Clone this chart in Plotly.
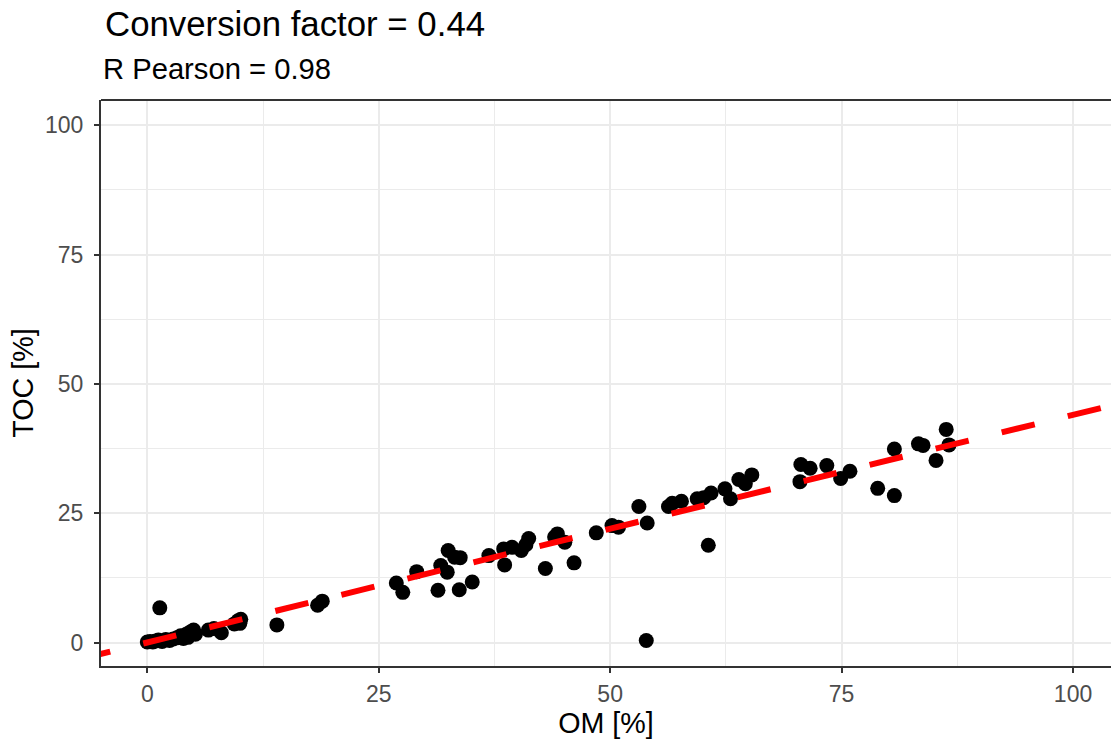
import plotly.graph_objects as go

# ---- data ----
om = [0.0, 0.3, 0.6, 0.9, 1.2, 1.6, 2.0, 2.4, 2.8, 3.2, 3.6, 3.9, 4.2, 4.4, 4.7, 5.0, 5.2,
      6.6, 7.2, 8.0, 9.4, 9.8, 10.1, 10.0, 1.35,
      14.0, 18.4, 18.9,
      26.9, 27.6, 29.1, 31.4, 31.7, 32.4, 32.5, 33.2, 33.8, 33.7, 35.1, 36.9, 38.5, 38.6, 39.4,
      40.4, 40.9, 41.2, 43.0, 44.3, 44.0, 45.1, 46.1, 48.5, 50.2, 50.9, 53.1, 54.0, 53.9,
      60.6, 56.3, 56.7, 57.7, 59.4, 60.1, 60.9, 62.4, 63.0, 63.9, 64.6, 65.3,
      70.5, 70.6, 71.6, 73.4, 74.9, 75.9, 78.9, 80.7, 80.7, 83.3, 83.8, 85.2, 86.3, 86.6]
toc = [0.1, 0.2, 0.1, 0.3, 0.5, 0.2, 0.6, 0.4, 0.7, 0.9, 1.3, 0.8, 1.6, 1.0, 2.1, 2.4, 1.6,
       2.4, 2.7, 1.9, 3.6, 4.2, 4.5, 3.7, 6.7,
       3.4, 7.2, 8.0,
       11.5, 9.7, 13.7, 10.1, 14.9, 13.6, 17.8, 16.5, 16.4, 10.2, 11.7, 16.8, 18.1, 15.0, 18.4,
       17.8, 18.9, 20.1, 14.3, 21.0, 20.4, 19.4, 15.4, 21.2, 22.6, 22.3, 26.3, 23.1, 0.4,
       18.8, 26.3, 26.9, 27.3, 27.8, 28.0, 28.9, 29.7, 27.8, 31.5, 30.7, 32.4,
       31.1, 34.4, 33.7, 34.2, 31.7, 33.1, 29.8, 37.4, 28.4, 38.4, 38.1, 35.2, 41.2, 38.2]
conversion_factor = 0.44
r_pearson = 0.98
tick_vals = [0, 25, 50, 75, 100]
line_x = [-14.7, 110]

FONT = "Liberation Sans"

fig = go.Figure()
fig.add_trace(go.Scatter(
    x=om, y=toc, mode="markers",
    marker=dict(color="black", size=15, line=dict(width=0)),
    showlegend=False, hoverinfo="x+y"))
fig.add_trace(go.Scatter(
    x=line_x, y=[conversion_factor * v for v in line_x], mode="lines",
    line=dict(color="#FF0000", width=6, dash="34px,34px"),
    showlegend=False, hoverinfo="skip"))

axis_common = dict(
    tickvals=tick_vals, ticktext=[str(v) for v in tick_vals],
    showgrid=True, gridcolor="#EBEBEB", gridwidth=2,
    zeroline=False, showline=True, linecolor="#333333", linewidth=2,
    ticks="outside", ticklen=5, tickwidth=2, tickcolor="#333333",
    tickfont=dict(family=FONT, size=23, color="#4D4D4D"),
    minor=dict(tickvals=[12.5, 37.5, 62.5, 87.5], showgrid=True, gridcolor="#EBEBEB",
               gridwidth=1, ticks=""),
)

fig.update_layout(
    width=1111, height=742,
    margin=dict(l=101, r=0, t=100, b=76),
    plot_bgcolor="white", paper_bgcolor="white",
    font=dict(family=FONT, color="black"),
    xaxis=dict(range=[-5.0, 104.1],
               title=dict(text="OM [%]", font=dict(family=FONT, size=28.7, color="black"), standoff=5),
               ticklabelstandoff=1,
               **axis_common),
    yaxis=dict(range=[-4.54, 104.87],
               title=dict(text="TOC [%]", font=dict(family=FONT, size=28.7, color="black"), standoff=3),
               ticklabelstandoff=6,
               **axis_common),
    shapes=[dict(type="line", xref="paper", yref="paper", x0=0, x1=1, y0=1, y1=1,
                 line=dict(color="#333333", width=2), layer="above")],
    annotations=[
        dict(text=f"Conversion factor = {conversion_factor}", xref="paper", yref="paper",
             x=0.0015, y=1 + 76 / 566, xanchor="left", yanchor="middle", showarrow=False,
             font=dict(family=FONT, size=34.8, color="black")),
        dict(text=f"R Pearson = {r_pearson}", xref="paper", yref="paper",
             x=0.0, y=1 + 31 / 566, xanchor="left", yanchor="middle", showarrow=False,
             font=dict(family=FONT, size=29.2, color="black")),
    ],
)

fig.write_html("out.html", config={"displayModeBar": False},
               post_script="document.body.style.margin='0px';")
